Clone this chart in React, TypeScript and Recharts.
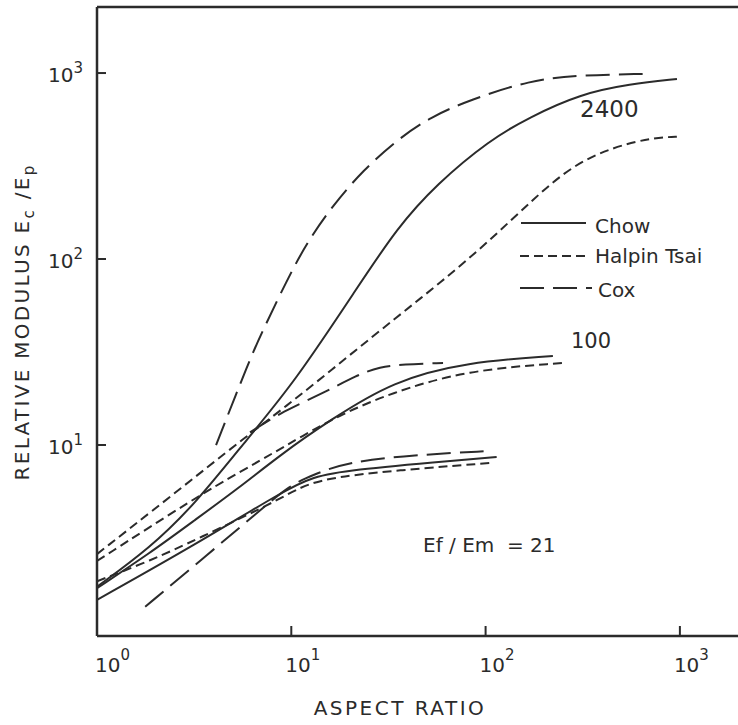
import { LineChart, Line, XAxis, YAxis, ReferenceLine, Customized } from 'recharts';

const X_MIN = 1;
const X_MAX = 2584;
const Y_MIN = 0.94;
const Y_MAX = 2265;
const xTicks = [1, 10, 100, 1000];
const yTicks = [10, 100, 1000];

// Ef/Em = 2400
const chow2400X = [1, 1.87, 3.19, 5.98, 10.4, 21.8, 35, 56, 105, 169, 306, 554, 966];
const chow2400Y = [1.73, 2.79, 4.8, 10.9, 21.8, 69.8, 147, 253, 437, 580, 771, 873, 929];
const halpin2400X = [1, 2.37, 5.98, 10.4, 19.4, 35, 58.2, 102, 180, 282, 453, 727, 1000];
const halpin2400Y = [2.59, 5.25, 11.3, 17.5, 29.7, 48.8, 74.3, 122, 215, 320, 400, 450, 455];
const cox2400X = [4.1, 6.1, 7.07, 9.5, 12.0, 16.4, 23.4, 35, 51.8, 83, 169, 306, 661];
const cox2400Y = [10.0, 28.7, 40.5, 77, 122, 195, 300, 437, 580, 716, 916, 975, 989];

// Ef/Em = 100
const chow100X = [1, 1.87, 3.19, 5.44, 8.75, 15.8, 33.4, 80.2, 222];
const chow100Y = [1.7, 2.62, 3.95, 5.94, 8.83, 13.6, 22.1, 27.9, 30.1];
const halpin100X = [1, 3.19, 5.44, 8.24, 11.1, 17.8, 32.2, 80.2, 250];
const halpin100Y = [2.38, 5.19, 7.16, 9.17, 11.0, 14.5, 19.0, 25.3, 27.6];
const cox100X = [6.13, 9.07, 14.6, 21.8, 28.6, 37.6, 60.4];
const cox100Y = [11.7, 15.2, 19.0, 23.8, 26.3, 27.2, 27.6];

// Ef/Em = 21
const chow21X = [1, 3.19, 9.28, 12.9, 19.4, 73.8, 114];
const chow21Y = [1.47, 2.9, 5.73, 6.73, 7.34, 8.31, 8.62];
const halpin21X = [1, 1.92, 3.19, 9.28, 12.9, 36.3, 105];
const halpin21Y = [1.85, 2.41, 3.08, 5.25, 6.56, 7.34, 8.0];
const cox21X = [1.77, 3.39, 6.74, 9.85, 12.9, 19.4, 42.3, 105];
const cox21Y = [1.35, 2.38, 4.36, 6.09, 6.9, 8.11, 8.83, 9.29];

const INK = '#2b2b2b';
const FONT = '"DejaVu Sans", sans-serif';
const HALPIN_DASH = '9 5';
const COX_DASH = '24 9';

const toPoints = (xs: number[], ys: number[]) => xs.map((x, i) => ({ x, y: ys[i] }));

const series = [
  { id: 'chow2400', data: toPoints(chow2400X, chow2400Y), dash: undefined },
  { id: 'halpin2400', data: toPoints(halpin2400X, halpin2400Y), dash: HALPIN_DASH },
  { id: 'cox2400', data: toPoints(cox2400X, cox2400Y), dash: COX_DASH },
  { id: 'chow100', data: toPoints(chow100X, chow100Y), dash: undefined },
  { id: 'halpin100', data: toPoints(halpin100X, halpin100Y), dash: HALPIN_DASH },
  { id: 'cox100', data: toPoints(cox100X, cox100Y), dash: COX_DASH },
  { id: 'chow21', data: toPoints(chow21X, chow21Y), dash: undefined },
  { id: 'halpin21', data: toPoints(halpin21X, halpin21Y), dash: HALPIN_DASH },
  { id: 'cox21', data: toPoints(cox21X, cox21Y), dash: COX_DASH },
];

const exponent = (v: number) => String(Math.round(Math.log10(v)));

const XTick = ({ x, y, payload }: { x?: number; y?: number; payload?: { value: number } }) => {
  if (x == null || y == null || !payload) return null;
  const v = payload.value;
  return (
    <g>
      {v !== 1 && <line x1={x} y1={y} x2={x} y2={y - 10} stroke={INK} strokeWidth={2} />}
      <text x={v === 1 ? x - 2 : x - 6} y={y + 36} fontSize={20} fontFamily={FONT} fill={INK}>
        10
        <tspan dy={-12} fontSize={15}>{exponent(v)}</tspan>
      </text>
    </g>
  );
};

const YTick = ({ x, y, payload }: { x?: number; y?: number; payload?: { value: number } }) => {
  if (x == null || y == null || !payload) return null;
  return (
    <g>
      <line x1={x} y1={y} x2={x + 9} y2={y} stroke={INK} strokeWidth={2} />
      <text x={x - 14} y={y + 9} textAnchor="end" fontSize={20} fontFamily={FONT} fill={INK}>
        10
        <tspan dy={-9} fontSize={15}>{exponent(payload.value)}</tspan>
      </text>
    </g>
  );
};

const Annotations = () => (
  <g fontFamily={FONT} fill={INK}>
    {/* legend */}
    <line x1={521} y1={223} x2={586} y2={223} stroke={INK} strokeWidth={2} />
    <text x={595} y={233} fontSize={20}>Chow</text>
    <line x1={520} y1={256} x2={588} y2={256} stroke={INK} strokeWidth={2} strokeDasharray={HALPIN_DASH} />
    <text x={595} y={263} fontSize={20}>Halpin Tsai</text>
    <line x1={520} y1={288} x2={592} y2={288} stroke={INK} strokeWidth={2} strokeDasharray={COX_DASH} />
    <text x={598} y={297} fontSize={20}>Cox</text>

    <text x={580} y={117} fontSize={23}>2400</text>
    <text x={571} y={348} fontSize={21}>100</text>
    <text x={423} y={552} fontSize={20} style={{ whiteSpace: 'pre' }}>Ef / Em  = 21</text>

    <text x={400} y={715} fontSize={20} textAnchor="middle" letterSpacing={2.5}>ASPECT RATIO</text>
    <text transform="translate(29,322) rotate(-90)" x={0} y={0} fontSize={20} textAnchor="middle" letterSpacing={2.3}>
      RELATIVE MODULUS E<tspan dy={5} fontSize={15}>c</tspan>
      <tspan dy={-5}> /E</tspan>
      <tspan dy={5} fontSize={15}>p</tspan>
    </text>
  </g>
);

export default function App() {
  return (
    <div style={{ position: 'absolute', left: 0, top: 0, width: 738, height: 725, overflow: 'hidden', background: '#fff' }}>
      <LineChart width={800} height={725} margin={{ top: 7, right: 40, bottom: 59, left: 37 }}>
        <XAxis
          dataKey="x"
          type="number"
          scale="log"
          domain={[X_MIN, X_MAX]}
          ticks={xTicks}
          allowDataOverflow
          height={30}
          tickSize={0}
          tickMargin={0}
          tickLine={false}
          axisLine={{ stroke: INK, strokeWidth: 2.5 }}
          tick={<XTick />}
          interval={0}
        />
        <YAxis
          dataKey="y"
          type="number"
          scale="log"
          domain={[Y_MIN, Y_MAX]}
          ticks={yTicks}
          allowDataOverflow
          width={60}
          tickSize={0}
          tickMargin={0}
          tickLine={false}
          axisLine={{ stroke: INK, strokeWidth: 2.5 }}
          tick={<YTick />}
          interval={0}
        />
        <ReferenceLine y={Y_MAX} stroke={INK} strokeWidth={2.5} ifOverflow="visible" />
        {series.map((s) => (
          <Line
            key={s.id}
            data={s.data}
            dataKey="y"
            type="basis"
            stroke={INK}
            strokeWidth={2}
            strokeDasharray={s.dash}
            dot={false}
            activeDot={false}
            isAnimationActive={false}
          />
        ))}
        <Customized component={Annotations} />
      </LineChart>
    </div>
  );
}
